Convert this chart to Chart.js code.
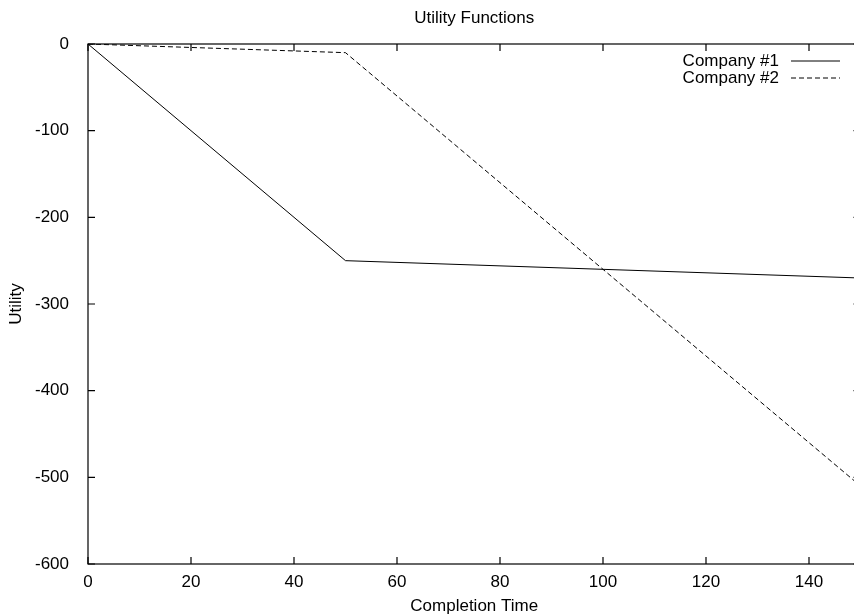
<!DOCTYPE html>
<html>
<head>
<meta charset="utf-8">
<script src="https://cdn.jsdelivr.net/npm/chart.js@4"></script>
<style>
  body { margin: 0; background: #fff; }
  #wrap { width: 854px; height: 615px; overflow: hidden; }
</style>
</head>
<body>
<div id="wrap"><canvas id="chart" width="870" height="615"></canvas></div>
<script>
// values
const times1 = [0, 50, 150];
const utility1 = [0, -250, -270];
const times2 = [0, 50, 150];
const utility2 = [0, -10, -510];

const xTicks = [0, 20, 40, 60, 80, 100, 120, 140];
const yTicks = [-600, -500, -400, -300, -200, -100, 0];

const FONT = '"Liberation Sans", Arial, Helvetica, sans-serif';
Chart.defaults.font.family = FONT;
Chart.defaults.font.size = 17;
Chart.defaults.color = '#000';

// box round the plot with inward ticks on all four sides (gnuplot look)
const frame = {
    id: 'frame',
    afterDatasetsDraw(chart) {
        const {ctx, chartArea: a, scales: {x, y}} = chart;
        const tl = 7;
        ctx.save();
        ctx.strokeStyle = '#000';
        ctx.lineWidth = 1.2;
        ctx.strokeRect(a.left, a.top, a.right - a.left, a.bottom - a.top);
        ctx.beginPath();
        xTicks.forEach(v => {
            const px = x.getPixelForValue(v);
            ctx.moveTo(px, a.bottom); ctx.lineTo(px, a.bottom - tl);
            ctx.moveTo(px, a.top); ctx.lineTo(px, a.top + tl);
        });
        yTicks.forEach(v => {
            const py = y.getPixelForValue(v);
            ctx.moveTo(a.left, py); ctx.lineTo(a.left + tl, py);
            ctx.moveTo(a.right, py); ctx.lineTo(a.right - tl, py);
        });
        ctx.stroke();
        ctx.restore();
    }
};

// legend inside top right corner: text, then line sample
const keyBox = {
    id: 'keyBox',
    afterDraw(chart) {
        const {ctx, chartArea: a} = chart;
        const lineEnd = a.right - 20.5;
        const lineStart = lineEnd - 49;
        ctx.save();
        ctx.font = '17px ' + FONT;
        ctx.textAlign = 'right';
        ctx.textBaseline = 'middle';
        chart.data.datasets.forEach((ds, i) => {
            const yy = a.top + 17 + i * 17;
            ctx.fillStyle = '#000';
            ctx.fillText(ds.label, lineStart - 12, yy);
            ctx.strokeStyle = ds.borderColor;
            ctx.lineWidth = ds.borderWidth;
            ctx.setLineDash(ds.borderDash || []);
            ctx.beginPath();
            ctx.moveTo(lineStart, yy);
            ctx.lineTo(lineEnd, yy);
            ctx.stroke();
        });
        ctx.restore();
    }
};

const ctx = document.getElementById('chart');
const chart = new Chart(ctx, {
    type: 'line',
    data: {
        datasets: [{
            label: 'Company #1',
            data: times1.map((t, i) => ({x: t, y: utility1[i]})),
            borderColor: '#000',
            borderWidth: 1,
            pointRadius: 0,
            tension: 0
        }, {
            label: 'Company #2',
            data: times2.map((t, i) => ({x: t, y: utility2[i]})),
            borderColor: '#000',
            borderWidth: 1,
            borderDash: [5, 3],
            pointRadius: 0,
            tension: 0
        }]
    },
    options: {
        responsive: false,
        animation: false,
        layout: { padding: { left: 0, top: 0, right: 9.5, bottom: 0 } },
        plugins: {
            legend: { display: false },
            tooltip: { enabled: false },
            title: {
                display: true,
                text: 'Utility Functions',
                fullSize: false,
                color: '#000',
                font: { size: 17, weight: 'normal', lineHeight: 1.2 },
                padding: { top: 8, bottom: 15.6 }
            }
        },
        scales: {
            x: {
                type: 'linear',
                min: 0,
                max: 150,
                afterBuildTicks: s => { s.ticks = xTicks.map(v => ({value: v})); },
                afterFit: s => { s.height = 51; },
                grid: { display: false },
                border: { display: false },
                ticks: { padding: 0, maxRotation: 0, autoSkip: false },
                title: {
                    display: true,
                    text: 'Completion Time',
                    font: { size: 17, lineHeight: 1 },
                    padding: { top: 0, bottom: 0 }
                }
            },
            y: {
                type: 'linear',
                min: -600,
                max: 0,
                afterBuildTicks: s => { s.ticks = yTicks.map(v => ({value: v})); },
                afterFit: s => { s.width = 88; },
                grid: { display: false },
                border: { display: false },
                ticks: { padding: 11, autoSkip: false },
                title: {
                    display: true,
                    text: 'Utility',
                    font: { size: 17, lineHeight: 1 },
                    padding: { top: 8, bottom: 0 }
                }
            }
        }
    },
    plugins: [frame, keyBox]
});
</script>
</body>
</html>
